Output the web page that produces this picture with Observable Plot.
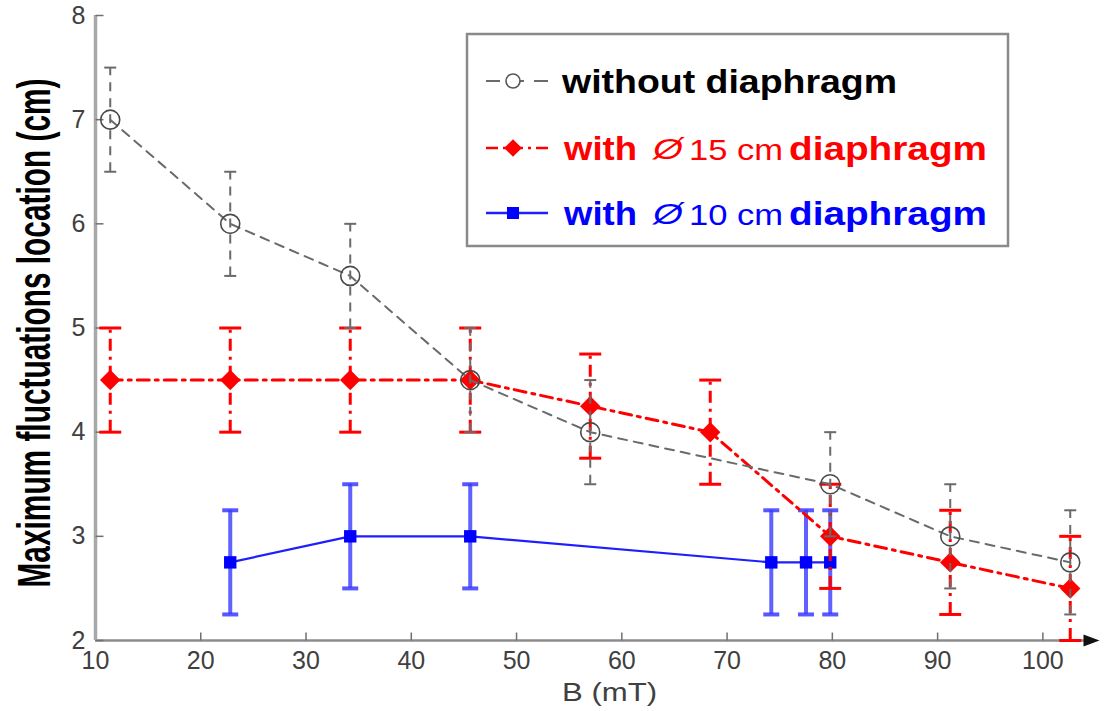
<!DOCTYPE html>
<html><head><meta charset="utf-8">
<script src="https://cdn.jsdelivr.net/npm/d3@7"></script>
<script src="https://cdn.jsdelivr.net/npm/@observablehq/plot@0.6"></script>
<style>
body{margin:0;background:#fff;}
#wrap{position:relative;width:1104px;height:711px;overflow:hidden;}
#wrap svg.overlay{position:absolute;left:0;top:0;pointer-events:none;}
</style></head><body><div id="wrap"></div>
<script>
// ---- data ----
const seriesNames = ["without diaphragm", "with Ø 15 cm diaphragm", "with Ø 10 cm diaphragm"];
const xNone = [11.4, 22.8, 34.2, 45.6, 57.0, 79.8, 91.2, 102.6];
const yNone = [7.0, 6.0, 5.5, 4.5, 4.0, 3.5, 3.0, 2.75];
const eNone = [0.5, 0.5, 0.5, 0.5, 0.5, 0.5, 0.5, 0.5];
const x15 = [11.4, 22.8, 34.2, 45.6, 57.0, 68.4, 79.8, 91.2, 102.6];
const y15 = [4.5, 4.5, 4.5, 4.5, 4.25, 4.0, 3.0, 2.75, 2.5];
const e15 = [0.5, 0.5, 0.5, 0.5, 0.5, 0.5, 0.5, 0.5, 0.5];
const x10 = [22.8, 34.2, 45.6, 74.2, 77.5, 79.8];
const y10 = [2.75, 3.0, 3.0, 2.75, 2.75, 2.75];
const e10 = [0.5, 0.5, 0.5, 0.5, 0.5, 0.5];
const xTicks = [10, 20, 30, 40, 50, 60, 70, 80, 90, 100];
const yTicks = [2, 3, 4, 5, 6, 7, 8];
const xLabel = "B (mT)";
const yLabel = "Maximum fluctuations location  (cm)";

const rows = (xs, ys, es) => xs.map((x, i) => ({x, y: ys[i], lo: ys[i] - es[i], hi: ys[i] + es[i]}));
const dNone = rows(xNone, yNone, eNone);
const d15 = rows(x15, y15, e15);
const d10 = rows(x10, y10, e10);
const caps = d => d.flatMap(r => [{x: r.x, y: r.lo}, {x: r.x, y: r.hi}]);

// custom symbols
const hCap = w => ({draw(ctx){ctx.moveTo(-w, 0); ctx.lineTo(w, 0);}});
const tickRight = {draw(ctx){ctx.moveTo(0, 0); ctx.lineTo(8, 0);}};
const tickUp = {draw(ctx){ctx.moveTo(0, 0); ctx.lineTo(0, -8);}};
const arrowHead = {draw(ctx){ctx.moveTo(4, 0); ctx.lineTo(-12, -6); ctx.lineTo(-12, 6); ctx.closePath();}};

const C_GRAY = "#6a6a6a", C_RED = "#ff0000", C_BLUE = "#1e1eff";
const DASH_GRAY = "9,7", DASH_RED = "12,6,3,6";

const plot = Plot.plot({
  width: 1104, height: 711,
  marginLeft: 95, marginRight: 9, marginTop: 15, marginBottom: 71,
  style: {fontFamily: "'Liberation Sans', Arial, sans-serif", fontSize: "25px", background: "#fff"},
  x: {domain: [10, 105]},
  y: {domain: [2, 8]},
  marks: [
    Plot.axisX({ticks: xTicks, tickFormat: d => String(d), tickSize: 0, tickPadding: 11, label: null, color: "#404040", fontSize: 25}),
    Plot.axisY({ticks: yTicks, tickFormat: d => String(d), tickSize: 0, tickPadding: 10, label: null, color: "#404040", fontSize: 25}),
    // axis lines and inward ticks
    Plot.ruleY([2], {stroke: "#8c8c8c", strokeWidth: 2.5}),
    Plot.ruleX([10], {stroke: "#a8a8a8", strokeWidth: 3.5}),
    Plot.dot(yTicks, {x: () => 10, y: d => d, symbol: tickRight, stroke: "#707070", strokeWidth: 1.5, fill: "none"}),
    Plot.dot(xTicks.filter(t => t > 10), {x: d => d, y: () => 2, symbol: tickUp, stroke: "#707070", strokeWidth: 1.5, fill: "none"}),
    Plot.dot([105], {x: d => d, y: () => 2, symbol: arrowHead, fill: "#111", stroke: "none", r: 6}),
    // blue: with 10 cm diaphragm
    Plot.ruleX(d10, {x: "x", y1: "lo", y2: "hi", stroke: "#3a3aff", strokeOpacity: 0.8, strokeWidth: 4}),
    Plot.dot(caps(d10), {x: "x", y: "y", symbol: hCap(8), stroke: "#3a3aff", strokeOpacity: 0.85, strokeWidth: 4, fill: "none"}),
    Plot.line(d10, {x: "x", y: "y", stroke: C_BLUE, strokeWidth: 2.2}),
    Plot.dot(d10, {x: "x", y: "y", symbol: "square", r: 7, fill: "#0000ff", stroke: "none"}),
    // red: with 15 cm diaphragm
    Plot.ruleX(d15, {x: "x", y1: "lo", y2: "hi", stroke: C_RED, strokeWidth: 3, strokeDasharray: DASH_RED}),
    Plot.dot(caps(d15), {x: "x", y: "y", symbol: hCap(11), stroke: C_RED, strokeWidth: 3, fill: "none"}),
    Plot.line(d15, {x: "x", y: "y", stroke: C_RED, strokeWidth: 3, strokeDasharray: DASH_RED}),
    Plot.dot(d15, {x: "x", y: "y", symbol: "diamond2", r: 9.2, fill: C_RED, stroke: "none"}),
    // gray: without diaphragm
    Plot.ruleX(dNone, {x: "x", y1: "lo", y2: "hi", stroke: C_GRAY, strokeWidth: 2, strokeDasharray: DASH_GRAY}),
    Plot.dot(caps(dNone), {x: "x", y: "y", symbol: hCap(6), stroke: C_GRAY, strokeWidth: 2, fill: "none"}),
    Plot.line(dNone, {x: "x", y: "y", stroke: C_GRAY, strokeWidth: 2, strokeDasharray: DASH_GRAY}),
    Plot.dot(dNone, {x: "x", y: "y", r: 9.5, stroke: "#4a4a4a", strokeWidth: 1.6, fill: "none"})
  ]
});
const wrap = document.getElementById("wrap");
wrap.appendChild(plot);

// ---- overlay: axis titles + legend ----
const svg = d3.select(wrap).append("svg").attr("class", "overlay")
  .attr("width", 1104).attr("height", 711)
  .style("font-family", "'Liberation Sans', Arial, sans-serif");

svg.append("text").text(yLabel)
  .attr("transform", "translate(50,333) rotate(-90) scale(1,1.6)")
  .attr("text-anchor", "middle").attr("font-size", 29).attr("font-weight", "bold")
  .attr("textLength", 509).attr("lengthAdjust", "spacingAndGlyphs").attr("fill", "#000");

svg.append("text").text(xLabel)
  .attr("x", 562).attr("y", 701).attr("font-size", 25)
  .attr("textLength", 95).attr("lengthAdjust", "spacingAndGlyphs").attr("fill", "#404040");

const lg = svg.append("g");
lg.append("rect").attr("x", 467).attr("y", 34).attr("width", 541).attr("height", 212)
  .attr("fill", "#fff").attr("stroke", "#8a8a8a").attr("stroke-width", 2.5);

const rowY = [81, 148, 213];
// row 1
lg.append("line").attr("x1", 486).attr("x2", 548).attr("y1", rowY[0]).attr("y2", rowY[0])
  .attr("stroke", C_GRAY).attr("stroke-width", 2).attr("stroke-dasharray", "14,10");
lg.append("circle").attr("cx", 513).attr("cy", rowY[0]).attr("r", 7).attr("fill", "#fff").attr("stroke", "#555").attr("stroke-width", 1.6);
lg.append("text").text(seriesNames[0]).attr("x", 562).attr("y", rowY[0] + 12)
  .attr("font-size", 34).attr("font-weight", "bold").attr("fill", "#000")
  .attr("textLength", 335).attr("lengthAdjust", "spacingAndGlyphs");
// row 2
lg.append("line").attr("x1", 486).attr("x2", 548).attr("y1", rowY[1]).attr("y2", rowY[1])
  .attr("stroke", C_RED).attr("stroke-width", 2.5).attr("stroke-dasharray", "12,5,3,5");
lg.append("path").attr("d", d3.symbol(d3.symbolDiamond2, 200)()).attr("transform", `translate(513,${rowY[1]})`).attr("fill", C_RED);
// row 3
lg.append("line").attr("x1", 486).attr("x2", 548).attr("y1", rowY[2]).attr("y2", rowY[2])
  .attr("stroke", C_BLUE).attr("stroke-width", 2.5);
lg.append("rect").attr("x", 507).attr("y", rowY[2] - 6).attr("width", 12).attr("height", 12).attr("fill", "#0000ff");

function richRow(y, color, num) {
  const base = y + 12;
  lg.append("text").text("with").attr("x", 564).attr("y", base).attr("font-size", 34).attr("font-weight", "bold")
    .attr("fill", color).attr("textLength", 73).attr("lengthAdjust", "spacingAndGlyphs");
  lg.append("text").text("Ø").attr("x", 653).attr("y", base - 1).attr("font-size", 30).attr("font-style", "italic")
    .attr("fill", color).attr("textLength", 30).attr("lengthAdjust", "spacingAndGlyphs");
  lg.append("text").text(num + " cm").attr("x", 689).attr("y", base).attr("font-size", 29)
    .attr("fill", color).attr("textLength", 94).attr("lengthAdjust", "spacingAndGlyphs");
  lg.append("text").text("diaphragm").attr("x", 789).attr("y", base).attr("font-size", 34).attr("font-weight", "bold")
    .attr("fill", color).attr("textLength", 198).attr("lengthAdjust", "spacingAndGlyphs");
}
richRow(rowY[1], C_RED, "15");
richRow(rowY[2], "#0000ff", "10");
</script></body></html>
